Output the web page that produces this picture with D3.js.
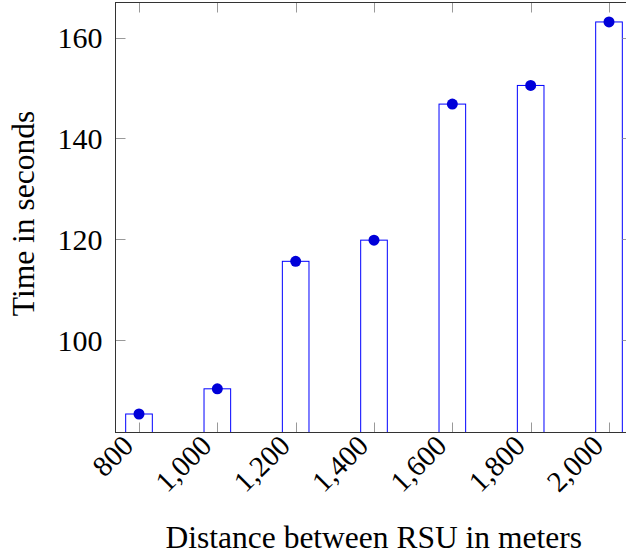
<!DOCTYPE html>
<html>
<head>
<meta charset="utf-8">
<script src="https://cdn.jsdelivr.net/npm/d3@7/dist/d3.min.js"></script>
<style>
  html, body { margin: 0; padding: 0; background: #fff; }
  svg { display: block; }
  text { font-family: "Times New Roman", Times, serif; fill: #000; }
</style>
</head>
<body>
<script>
// Data
const distances = [800, 1000, 1200, 1400, 1600, 1800, 2000];
const times = [85.3, 90.3, 115.6, 119.8, 146.8, 150.5, 163.1];
const xTicks = [800, 1000, 1200, 1400, 1600, 1800, 2000];
const yTicks = [100, 120, 140, 160];

(function () {
const W = 626, H = 558;
const mL = 115.5, mR = 632.5, mT = 2.5, mB = 432.5;

const svg = d3.select("body").append("svg").attr("width", W).attr("height", H);

const x = d3.scaleLinear().domain([740, 2060]).range([mL, mR]);
const y = d3.scaleLinear().domain([81.63, 166.96]).range([mB, mT]);

const barHalf = 34; // data units

// bars
svg.append("g").selectAll("rect").data(distances).join("rect")
  .attr("x", (d) => x(d - barHalf))
  .attr("width", (d) => x(d + barHalf) - x(d - barHalf))
  .attr("y", (d, i) => y(times[i]))
  .attr("height", (d, i) => mB - y(times[i]))
  .attr("fill", "#fff")
  .attr("stroke", "#0000ff")
  .attr("stroke-width", 1);

// ticks (inner, gray) on all four sides
const tickLen = 10;
const tg = svg.append("g").attr("stroke", "#999").attr("stroke-width", 1);
xTicks.forEach(t => {
  const xp = Math.round(x(t)) + 0.5;
  tg.append("line").attr("x1", xp).attr("x2", xp).attr("y1", mB).attr("y2", mB - tickLen);
  tg.append("line").attr("x1", xp).attr("x2", xp).attr("y1", mT).attr("y2", mT + tickLen);
});
yTicks.forEach(t => {
  const yp = Math.round(y(t)) + 0.5;
  tg.append("line").attr("x1", mL).attr("x2", mL + tickLen).attr("y1", yp).attr("y2", yp);
  tg.append("line").attr("x1", mR).attr("x2", mR - tickLen).attr("y1", yp).attr("y2", yp);
});

// dots
svg.append("g").selectAll("circle").data(distances).join("circle")
  .attr("cx", (d) => x(d))
  .attr("cy", (d, i) => y(times[i]))
  .attr("r", 5.5)
  .attr("fill", "#0000d9");

// frame
svg.append("rect")
  .attr("x", mL).attr("y", mT)
  .attr("width", mR - mL).attr("height", mB - mT)
  .attr("fill", "none").attr("stroke", "#333").attr("stroke-width", 1);

// y tick labels
const fmt = d3.format(",");
svg.append("g").selectAll("text").data(yTicks).join("text")
  .attr("x", mL - 13)
  .attr("y", (d) => y(d))
  .attr("dy", "0.36em")
  .attr("text-anchor", "end")
  .attr("font-size", 30)
  .text((d) => d);

// x tick labels rotated
svg.append("g").selectAll("text").data(xTicks).join("text")
  .attr("transform", (d) => `translate(${x(d) - 11},${mB + 8}) rotate(-45)`)
  .attr("dy", "0.34em")
  .attr("text-anchor", "end")
  .attr("font-size", 29)
  .text((d) => fmt(d));

// axis titles
svg.append("text")
  .attr("x", (mL + 626) / 2 + 3)
  .attr("y", 548)
  .attr("text-anchor", "middle")
  .attr("font-size", 31.5)
  .text("Distance between RSU in meters");

svg.append("text")
  .attr("transform", `translate(33.5,${(mT + mB) / 2 - 4}) rotate(-90)`)
  .attr("text-anchor", "middle")
  .attr("font-size", 31.5)
  .text("Time in seconds");
})();
</script>
</body>
</html>
